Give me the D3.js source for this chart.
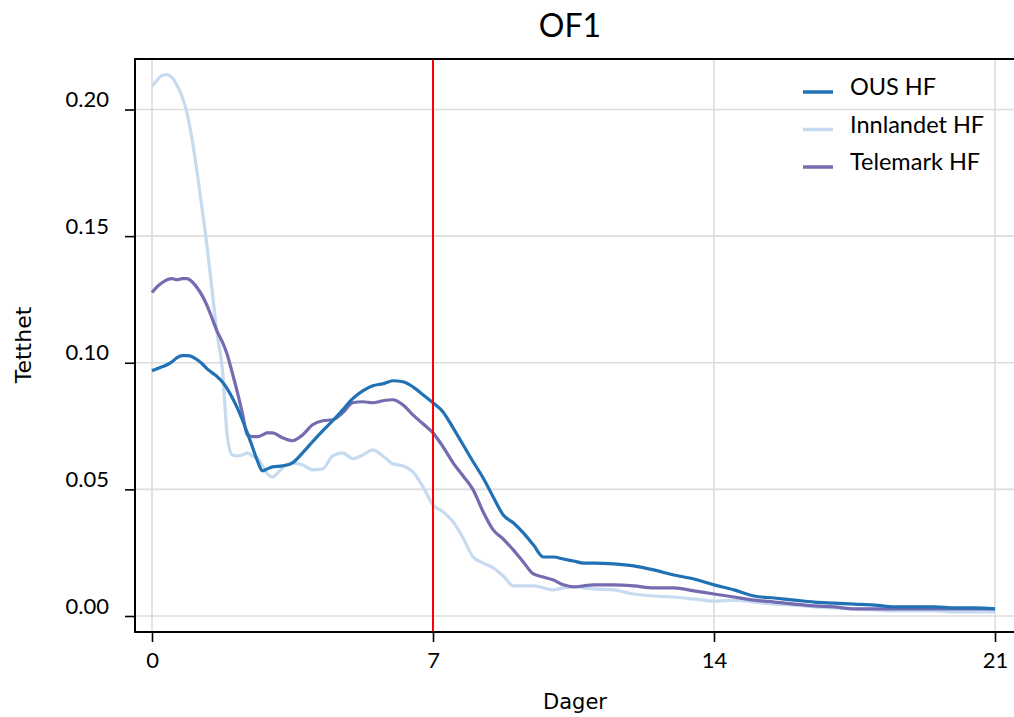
<!DOCTYPE html>
<html>
<head>
<meta charset="utf-8">
<script src="https://cdn.jsdelivr.net/npm/d3@7"></script>
<style>
  html, body { margin: 0; padding: 0; background: #fff; }
  svg { display: block; }
</style>
</head>
<body>
<svg id="chart" width="1014" height="717"></svg>
<script>
const title = "OF1";
const xTitle = "Dager";
const yTitle = "Tetthet";
const seriesNames = ["OUS HF", "Innlandet HF", "Telemark HF"];
const seriesColors = ["#2171b5", "#c6dbef", "#756bb1"];
const xTicks = [0, 7, 14, 21];
const yTicks = [0, 0.05, 0.10, 0.15, 0.20];
const yTickLabels = ["0.00", "0.05", "0.10", "0.15", "0.20"];
const cutoffDay = 7;

const days = [
  0, 0.125, 0.25, 0.375, 0.5, 0.625, 0.75, 0.875, 1, 1.125, 1.25, 1.375, 1.5, 1.625, 1.75, 1.875,
  2, 2.125, 2.25, 2.375, 2.5, 2.625, 2.75, 2.875, 3,
  3.25, 3.5, 3.75, 4, 4.25, 4.5, 4.75, 5, 5.25, 5.5, 5.75, 6, 6.25, 6.5, 6.75, 7,
  7.25, 7.5, 7.75, 8, 8.25, 8.5, 8.75, 9, 9.25, 9.5, 9.75, 10, 10.25, 10.5, 10.75, 11,
  11.5, 12, 12.5, 13, 13.5, 14, 14.5, 15, 15.5, 16, 16.5, 17, 17.5, 18, 18.5, 19, 19.5, 20, 20.5, 21
];

const ousHF = [
  0.0968, 0.0976, 0.0984, 0.0992, 0.1004, 0.1020, 0.1028, 0.1028, 0.1024, 0.1012, 0.0996, 0.0976, 0.0960, 0.0945, 0.0925, 0.0897,
  0.0862, 0.0822, 0.0775, 0.0723, 0.0668, 0.0613, 0.0573, 0.0581, 0.0589,
  0.0593, 0.0605, 0.0644, 0.0688, 0.0731, 0.0771, 0.0814, 0.0858, 0.0889, 0.0909, 0.0917, 0.0929, 0.0925, 0.0905, 0.0874, 0.0842,
  0.0806, 0.0743, 0.0676, 0.0609, 0.0545, 0.0470, 0.0399, 0.0368, 0.0328, 0.0281, 0.0233, 0.0233, 0.0225, 0.0217, 0.0209, 0.0209,
  0.0206, 0.0198, 0.0182, 0.0162, 0.0146, 0.0123, 0.0103, 0.0079, 0.0071, 0.0063, 0.0055, 0.0051, 0.0047, 0.0043, 0.0036, 0.0036, 0.0036, 0.0032, 0.0032, 0.0028
];

const innlandetHF = [
  0.2091, 0.2115, 0.2134, 0.2138, 0.2126, 0.2095, 0.2051, 0.1984, 0.1881, 0.1751, 0.1605, 0.1455, 0.1281, 0.1111, 0.0980, 0.0711,
  0.0636, 0.0632, 0.0636, 0.0644, 0.0632, 0.0625, 0.0593, 0.0561, 0.0549,
  0.0585, 0.0605, 0.0597, 0.0577, 0.0581, 0.0632, 0.0644, 0.0621, 0.0636, 0.0656, 0.0632, 0.0601, 0.0593, 0.0569, 0.0510, 0.0439,
  0.0411, 0.0372, 0.0308, 0.0233, 0.0209, 0.0190, 0.0158, 0.0119, 0.0119, 0.0119, 0.0111, 0.0103, 0.0111, 0.0115, 0.0111, 0.0107,
  0.0103, 0.0087, 0.0079, 0.0075, 0.0067, 0.0059, 0.0063, 0.0055, 0.0047, 0.0043, 0.0036, 0.0032, 0.0028, 0.0024, 0.0020, 0.0020, 0.0020, 0.0016, 0.0016, 0.0016
];

const telemarkHF = [
  0.1277, 0.1300, 0.1316, 0.1328, 0.1332, 0.1328, 0.1332, 0.1332, 0.1320, 0.1296, 0.1265, 0.1225, 0.1174, 0.1123, 0.1083, 0.1032,
  0.0960, 0.0885, 0.0802, 0.0715, 0.0708, 0.0708, 0.0715, 0.0723, 0.0723,
  0.0704, 0.0692, 0.0715, 0.0755, 0.0771, 0.0775, 0.0802, 0.0842, 0.0846, 0.0842, 0.0850, 0.0854, 0.0834, 0.0794, 0.0759, 0.0723,
  0.0668, 0.0605, 0.0553, 0.0498, 0.0411, 0.0340, 0.0304, 0.0261, 0.0213, 0.0166, 0.0154, 0.0142, 0.0123, 0.0115, 0.0119, 0.0123,
  0.0123, 0.0119, 0.0111, 0.0111, 0.0099, 0.0087, 0.0075, 0.0063, 0.0055, 0.0047, 0.0040, 0.0036, 0.0028, 0.0028, 0.0028, 0.0028, 0.0028, 0.0028, 0.0028, 0.0028
];

const seriesValues = [ousHF, innlandetHF, telemarkHF];

// layout
const W = 1014, H = 717;
const frame = { left: 135, right: 1014, top: 59, bottom: 632 };
const svg = d3.select("#chart");

const x = d3.scaleLinear().domain([0, 21]).range([152, 995]);
const y = d3.scaleLinear().domain([0, 0.20]).range([616, 109.5]);

const tickFont = "Lato, 'Open Sans', sans-serif";

// gridlines
const grid = svg.append("g");
grid.selectAll("line.h").data(yTicks).join("line")
  .attr("x1", frame.left).attr("x2", frame.right)
  .attr("y1", d => y(d)).attr("y2", d => y(d))
  .attr("stroke", "#dcdcdc").attr("stroke-width", 1.6);
grid.selectAll("line.v").data(xTicks).join("line")
  .attr("x1", d => x(d)).attr("x2", d => x(d))
  .attr("y1", frame.top).attr("y2", frame.bottom)
  .attr("stroke", "#dcdcdc").attr("stroke-width", 1.6);

// series lines
const line = d3.line().x(d => x(d[0])).y(d => y(d[1])).curve(d3.curveMonotoneX);
const order = [1, 2, 0];
order.forEach(i => {
  const pts = days.map((d, k) => [d, seriesValues[i][k]]);
  svg.append("path").datum(pts)
    .attr("d", line)
    .attr("fill", "none")
    .attr("stroke", seriesColors[i])
    .attr("stroke-width", 3.2)
    .attr("stroke-linejoin", "round");
});

// cutoff line
svg.append("line")
  .attr("x1", x(cutoffDay)).attr("x2", x(cutoffDay))
  .attr("y1", frame.top).attr("y2", frame.bottom)
  .attr("stroke", "#ff0000").attr("stroke-width", 2);

// axes
const xAxis = d3.axisBottom(x).tickValues(xTicks).tickSize(10).tickPadding(10).tickFormat(d3.format("d"));
const gx = svg.append("g").attr("transform", `translate(0,${frame.bottom})`).call(xAxis);
gx.select(".domain").remove();
gx.selectAll(".tick line").attr("stroke", "#000").attr("stroke-width", 1.6);
gx.selectAll(".tick text").attr("font-family", tickFont).attr("font-size", 22).attr("fill", "#000");

const yAxis = d3.axisLeft(y).tickValues(yTicks).tickSize(10).tickPadding(16)
  .tickFormat((d, i) => yTickLabels[i]);
const gy = svg.append("g").attr("transform", `translate(${frame.left},0)`).call(yAxis);
gy.select(".domain").remove();
gy.selectAll(".tick line").attr("stroke", "#000").attr("stroke-width", 1.6);
gy.selectAll(".tick text").attr("font-family", tickFont).attr("font-size", 22).attr("fill", "#000")
  .attr("dy", "-0.13em");

// frame lines
svg.append("line").attr("x1", frame.left).attr("x2", frame.right).attr("y1", frame.bottom).attr("y2", frame.bottom)
  .attr("stroke", "#000").attr("stroke-width", 2);
svg.append("line").attr("x1", frame.left).attr("x2", frame.right).attr("y1", frame.top).attr("y2", frame.top)
  .attr("stroke", "#000").attr("stroke-width", 2);
svg.append("line").attr("x1", frame.left).attr("x2", frame.left).attr("y1", frame.top - 1).attr("y2", frame.bottom + 1)
  .attr("stroke", "#000").attr("stroke-width", 2);

// title
svg.append("text").attr("x", 570).attr("y", 37).attr("text-anchor", "middle")
  .attr("font-family", tickFont).attr("font-size", 32).attr("fill", "#000").text(title);

// axis titles
svg.append("text").attr("x", 575).attr("y", 709).attr("text-anchor", "middle")
  .attr("font-family", "'DejaVu Sans', sans-serif").attr("font-size", 21).attr("fill", "#000").text(xTitle);
svg.append("text").attr("transform", "translate(31,345) rotate(-90)").attr("text-anchor", "middle")
  .attr("font-family", "'DejaVu Sans', sans-serif").attr("font-size", 22).attr("fill", "#000").text(yTitle);

// legend
const legend = svg.append("g");
seriesNames.forEach((name, i) => {
  const by = 95 + i * 37.5;
  legend.append("line").attr("x1", 803).attr("x2", 833).attr("y1", by - 3).attr("y2", by - 3)
    .attr("stroke", seriesColors[i]).attr("stroke-width", 3.5);
  legend.append("text").attr("x", 850).attr("y", by)
    .attr("font-family", tickFont).attr("font-size", 23.5).attr("fill", "#000").text(name);
});
</script>
</body>
</html>
